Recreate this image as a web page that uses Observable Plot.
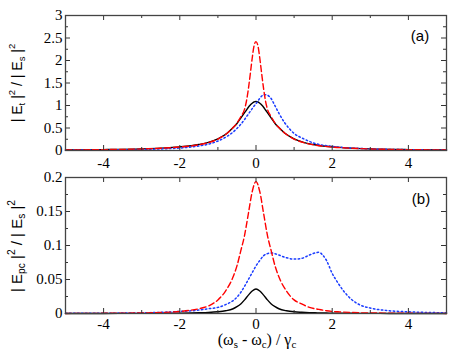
<!DOCTYPE html>
<html><head><meta charset="utf-8">
<script src="https://cdn.jsdelivr.net/npm/d3@7"></script>
<script src="https://cdn.jsdelivr.net/npm/@observablehq/plot@0.6"></script>
<style>
body{margin:0;background:#fff;}
#chart{position:relative;width:459px;height:355px;background:#fff;}
#chart svg{position:absolute;left:0;}
#chart svg text{font-family:"Liberation Serif","Times New Roman","DejaVu Serif",serif;}
#chart svg text.sans{font-family:"Liberation Sans",Arial,"DejaVu Sans",sans-serif;}
</style></head><body><div id="chart"></div>
<script>
// ---------- data ----------
const xTicksMajor = [-4, -2, 0, 2, 4];
const xTicksMinor = [-5, -3, -1, 1, 3, 5];
const topYTicksMajor = [0, 0.5, 1, 1.5, 2, 2.5, 3];
const topYTicksMinor = [0.25, 0.75, 1.25, 1.75, 2.25, 2.75];
const botYTicksMajor = [0, 0.05, 0.1, 0.15, 0.2];
const botYTicksMinor = [0.025, 0.075, 0.125, 0.175];

// panel (a): |E_t|^2/|E_s|^2
const xTop = [-5,-4,-3,-2.5,-2,-1.5,-1.25,-1,-0.75,-0.6,-0.5,-0.4,-0.3,-0.25,-0.2,-0.15,-0.1,-0.05,0,0.05,0.1,0.15,0.2,0.25,0.3,0.4,0.5,0.6,0.75,1,1.25,1.5,2,2.5,3,4,5];
const topBlack = [0.013,0.02,0.036,0.052,0.08,0.133,0.18,0.26,0.39,0.51,0.6,0.72,0.84,0.9,0.96,1.01,1.05,1.08,1.09,1.08,1.05,1.01,0.96,0.9,0.84,0.72,0.6,0.51,0.39,0.26,0.18,0.133,0.08,0.052,0.036,0.02,0.013];
const topRed   = [0.012,0.019,0.034,0.05,0.077,0.128,0.175,0.255,0.39,0.51,0.61,0.75,0.92,1.1,1.37,1.7,2.05,2.33,2.42,2.33,2.05,1.7,1.37,1.1,0.92,0.75,0.61,0.51,0.39,0.255,0.175,0.128,0.077,0.05,0.034,0.019,0.012];
const topBlue  = [0.008,0.012,0.024,0.035,0.055,0.1,0.14,0.21,0.32,0.41,0.49,0.58,0.69,0.75,0.81,0.87,0.93,0.99,1.04,1.1,1.16,1.21,1.24,1.24,1.23,1.15,0.99,0.83,0.62,0.38,0.26,0.17,0.09,0.055,0.035,0.018,0.011];

// panel (b): |E_pc|^2/|E_s|^2
const xBot = [-5,-4,-3,-2.5,-2,-1.5,-1.25,-1,-0.8,-0.6,-0.5,-0.4,-0.3,-0.2,-0.1,0,0.1,0.2,0.3,0.4,0.5,0.6,0.8,1,1.2,1.4,1.55,1.65,1.75,1.85,2,2.15,2.3,2.5,2.75,3,3.5,4,5];
const botBlack = [0,0.0001,0.0002,0.0003,0.0005,0.001,0.0015,0.0025,0.004,0.007,0.01,0.014,0.02,0.027,0.033,0.036,0.033,0.027,0.02,0.014,0.01,0.007,0.004,0.0025,0.0018,0.0013,0.001,0.0009,0.0008,0.0007,0.0005,0.0004,0.0003,0.0003,0.0002,0.0002,0.0001,0.0001,0];
const botRed   = [0.0001,0.0003,0.0008,0.0015,0.003,0.007,0.011,0.02,0.033,0.054,0.07,0.092,0.115,0.147,0.179,0.194,0.179,0.147,0.115,0.092,0.07,0.054,0.033,0.02,0.014,0.009,0.007,0.006,0.005,0.004,0.003,0.0025,0.002,0.0015,0.001,0.0008,0.0005,0.0003,0.0001];
const botBlue  = [0.0002,0.0004,0.001,0.0017,0.003,0.005,0.007,0.009,0.013,0.019,0.024,0.031,0.04,0.05,0.06,0.07,0.078,0.085,0.088,0.089,0.088,0.086,0.082,0.08,0.081,0.086,0.089,0.09,0.086,0.078,0.059,0.045,0.033,0.021,0.012,0.008,0.004,0.0025,0.001];

// ---------- drawing ----------
const W = 459, ML = 65, MR = 13;
const rows = (xs, ys) => xs.map((x, i) => ({x, y: ys[i]}));

function panel({height, marginTop, marginBottom, yDomain, yMajor, yMinor, series, xPad}) {
  const innerH = height - marginTop - marginBottom;
  const innerW = W - ML - MR;
  const tk = "#333";
  return Plot.plot({
    width: W, height, marginLeft: ML, marginRight: MR, marginTop, marginBottom,
    x: {domain: [-5, 5]},
    y: {domain: yDomain},
    style: {fontSize: "15px", color: "#000", background: "transparent", overflow: "visible"},
    marks: [
      Plot.line(rows(series.x, series.black), {x: "x", y: "y", stroke: "black", strokeWidth: 1.4, curve: "monotone-x"}),
      Plot.line(rows(series.x, series.blue), {x: "x", y: "y", stroke: "#1a3cff", strokeWidth: 1.5, strokeDasharray: "1.5,2.5", curve: "monotone-x"}),
      Plot.line(rows(series.x, series.red), {x: "x", y: "y", stroke: "#ff0000", strokeWidth: 1.4, strokeDasharray: "6,3", curve: "monotone-x"}),
      // inward ticks on all four sides
      Plot.tickX(xTicksMajor, {x: d => d, insetTop: innerH - 5, stroke: tk}),
      Plot.tickX(xTicksMajor, {x: d => d, insetBottom: innerH - 5, stroke: tk}),
      Plot.tickX(xTicksMinor, {x: d => d, insetTop: innerH - 3, stroke: tk}),
      Plot.tickX(xTicksMinor, {x: d => d, insetBottom: innerH - 3, stroke: tk}),
      Plot.tickY(yMajor, {y: d => d, insetRight: innerW - 5, stroke: tk}),
      Plot.tickY(yMajor, {y: d => d, insetLeft: innerW - 5, stroke: tk}),
      Plot.tickY(yMinor, {y: d => d, insetRight: innerW - 3, stroke: tk}),
      Plot.tickY(yMinor, {y: d => d, insetLeft: innerW - 3, stroke: tk}),
      Plot.frame({stroke: "#444", strokeWidth: 1.3}),
      Plot.axisX(xTicksMajor, {tickSize: 0, tickPadding: xPad, tickFormat: d => String(d), label: null, fontSize: 15}),
      Plot.axisY(yMajor, {tickSize: 0, tickPadding: 3, tickFormat: d => String(d), label: null, fontSize: 15})
    ]
  });
}

const chart = document.getElementById("chart");

const svgTop = panel({
  height: 170, marginTop: 15, marginBottom: 20,
  yDomain: [0, 3], yMajor: topYTicksMajor, yMinor: topYTicksMinor, xPad: 7,
  series: {x: xTop, black: topBlack, red: topRed, blue: topBlue}
});
svgTop.style.top = "0px";
chart.appendChild(svgTop);

const svgBot = panel({
  height: 185, marginTop: 7, marginBottom: 42,
  yDomain: [0, 0.2], yMajor: botYTicksMajor, yMinor: botYTicksMinor, xPad: 5,
  series: {x: xBot, black: botBlack, red: botRed, blue: botBlue}
});
svgBot.style.top = "170px";
chart.appendChild(svgBot);

// titles with sub/superscripts
function richText(svg, x, y, parts, {rotate = 0, cls = null, size = 15}) {
  const t = d3.select(svg).append("text")
    .attr("class", cls)
    .attr("transform", `translate(${x},${y}) rotate(${rotate})`)
    .attr("text-anchor", "middle")
    .attr("dominant-baseline", "middle")
    .style("font-size", size + "px")
    .attr("fill", "black");
  let shift = 0;
  for (const [s, kind] of parts) {
    const target = kind === "sub" ? 4 : kind === "sup" ? -6 : 0;
    const ts = t.append("tspan").text(s).attr("dy", target - shift);
    if (kind) ts.style("font-size", (size * 0.68) + "px");
    shift = target;
  }
  return t;
}
richText(svgTop, 18, 83, [["| E"], ["t", "sub"], [" |"], ["2", "sup"], [" / | E"], ["s", "sub"], [" |"], ["2", "sup"]], {rotate: -90, cls: "sans", size: 14});
richText(svgBot, 18, 76, [["| E"], ["pc", "sub"], [" |"], ["2", "sup"], [" / | E"], ["s", "sub"], [" |"], ["2", "sup"]], {rotate: -90, cls: "sans"});
richText(svgBot, 257, 171, [["(ω"], ["s", "sub"], [" - ω"], ["c", "sub"], [") / γ"], ["c", "sub"]], {size: 16});
richText(svgTop, 420, 37, [["(a)"]], {cls: "sans"});
richText(svgBot, 421, 30, [["(b)"]], {cls: "sans"});
</script>
</body></html>
